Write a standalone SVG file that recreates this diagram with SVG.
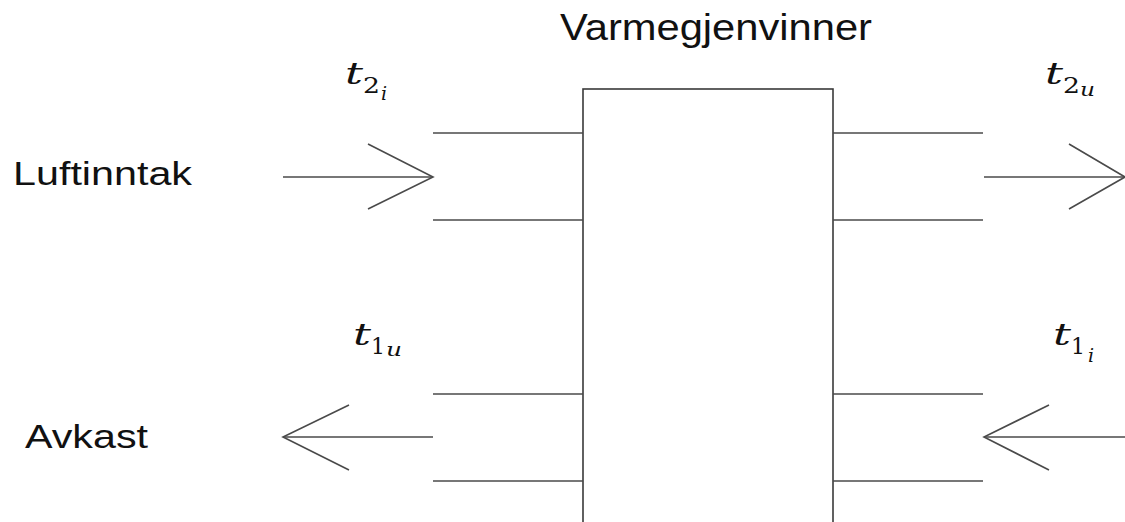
<svg xmlns="http://www.w3.org/2000/svg" width="1125" height="522" viewBox="0 0 1125 522">
<style>
.ln{stroke:#4a4a4a;stroke-width:1.6;fill:none;stroke-linecap:butt}
.box{stroke:#3a3a3a;stroke-width:1.6;fill:#fff}
.lbl{font-family:"Liberation Sans",Arial,sans-serif;fill:#111}
.m{font-family:"DejaVu Serif","Liberation Serif",serif;fill:#111}
.it{font-style:italic}
</style>
<rect width="1125" height="522" fill="#fff"/>
<g id="varmegjenvinner">
<rect class="box" x="583" y="89" width="250" height="450"/>
<text class="lbl" x="560" y="40" font-size="36" textLength="312" lengthAdjust="spacingAndGlyphs">Varmegjenvinner</text>
</g>
<g id="ducts">
<line class="ln" x1="433" y1="133" x2="583" y2="133"/>
<line class="ln" x1="433" y1="220" x2="583" y2="220"/>
<line class="ln" x1="833" y1="133" x2="983" y2="133"/>
<line class="ln" x1="833" y1="220" x2="983" y2="220"/>
<line class="ln" x1="433" y1="394" x2="583" y2="394"/>
<line class="ln" x1="433" y1="481" x2="583" y2="481"/>
<line class="ln" x1="833" y1="394" x2="983" y2="394"/>
<line class="ln" x1="833" y1="481" x2="983" y2="481"/>
</g>
<g id="connectors">
<line class="ln" x1="283" y1="177" x2="433" y2="177"/>
<polyline class="ln" points="368,144 433,177 368,209"/>
<line class="ln" x1="984" y1="177" x2="1125" y2="177"/>
<polyline class="ln" points="1069,144 1125,177 1069,209"/>
<line class="ln" x1="283" y1="437" x2="433" y2="437"/>
<polyline class="ln" points="349,405 283,437 349,470"/>
<line class="ln" x1="984" y1="437" x2="1125" y2="437"/>
<polyline class="ln" points="1049,405 984,437 1049,470"/>
</g>
<g id="luftinntak">
<text class="lbl" x="13" y="185" font-size="34" textLength="179" lengthAdjust="spacingAndGlyphs">Luftinntak</text>
</g>
<g id="avkast">
<text class="lbl" x="25" y="448" font-size="34" textLength="123" lengthAdjust="spacingAndGlyphs">Avkast</text>
</g>
<g id="t2i">
<text class="m it" x="345" y="84" font-size="29" textLength="18" lengthAdjust="spacingAndGlyphs">t</text>
<text class="m" x="363" y="93" font-size="23" textLength="17" lengthAdjust="spacingAndGlyphs">2</text>
<text class="m it" x="381" y="100" font-size="19">i</text>
</g>
<g id="t2u">
<text class="m it" x="1045" y="84" font-size="29" textLength="18" lengthAdjust="spacingAndGlyphs">t</text>
<text class="m" x="1063" y="93" font-size="23" textLength="17" lengthAdjust="spacingAndGlyphs">2</text>
<text class="m it" x="1080" y="96" font-size="19" textLength="15" lengthAdjust="spacingAndGlyphs">u</text>
</g>
<g id="t1u">
<text class="m it" x="353" y="345" font-size="29" textLength="18" lengthAdjust="spacingAndGlyphs">t</text>
<text class="m" x="371" y="354" font-size="23" textLength="14" lengthAdjust="spacingAndGlyphs">1</text>
<text class="m it" x="386" y="356" font-size="19" textLength="16" lengthAdjust="spacingAndGlyphs">u</text>
</g>
<g id="t1i">
<text class="m it" x="1053" y="345" font-size="29" textLength="18" lengthAdjust="spacingAndGlyphs">t</text>
<text class="m" x="1071" y="354" font-size="23" textLength="14" lengthAdjust="spacingAndGlyphs">1</text>
<text class="m it" x="1088" y="362" font-size="19">i</text>
</g>
</svg>
